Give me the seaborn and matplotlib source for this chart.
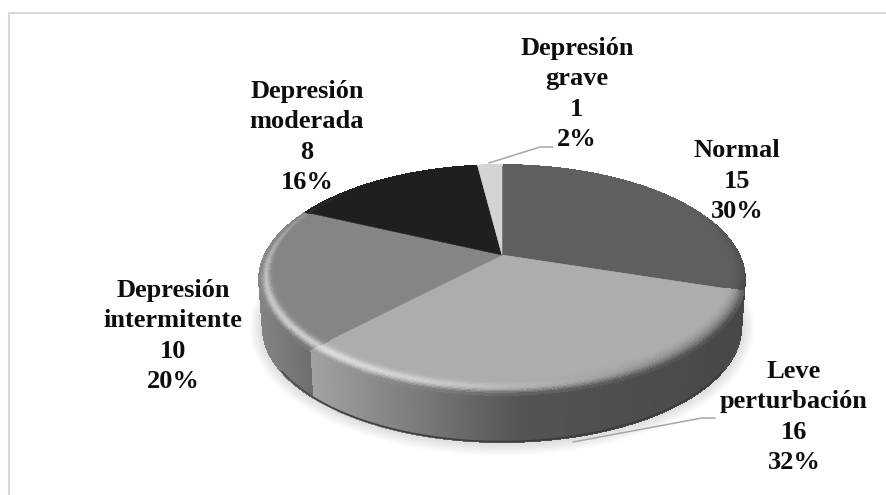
import numpy as np
import matplotlib
matplotlib.use("Agg")
import matplotlib.pyplot as plt
import seaborn as sns
from matplotlib.collections import PolyCollection
from matplotlib.path import Path
from matplotlib.transforms import Affine2D, Transform

# Survey results
categories = ["Normal", "Leve\nperturbación", "Depresión\nintermitente",
              "Depresión\nmoderada", "Depresión\ngrave"]
counts = [15, 16, 10, 8, 1]

# Greys for the top of each slice
face_colors = ["#5f5f5f", "#adadad", "#858585", "#1f1f1f", "#d4d4d4"]

# Wall shading per slice: screen x stops and their grey levels
wall_x = [[700, 760], [316, 420, 520, 745], [258, 318], [0, 886], [0, 886]]
wall_grey = [[0.27, 0.27], [0.63, 0.48, 0.33, 0.28], [0.52, 0.42], [0.1, 0.1], [0.6, 0.6]]

# Text block centres and leader lines, in figure pixels
label_pos = [(737, 181), (794, 417), (173, 336), (307, 137), (577, 94)]
leaders = {4: [(489, 163), (540, 147), (553, 147)],
           1: [(573, 442), (702, 418), (715, 418)]}

# Projection of the unit disc onto the screen
CX, CY = 502.0, 255.0
SX, SY = 237.0, 109.6
PERSP = 0.217
DEPTH = 47.0
WALL_SHRINK = 0.985


def project(x, y):
    w = 1 + PERSP * np.asarray(y)
    return CX + SX * np.asarray(x) / w, CY - SY * np.asarray(y) / w


class TiltTransform(Transform):
    """Maps pie coordinates (unit disc) to the tilted disc on screen."""
    input_dims = 2
    output_dims = 2

    def transform_non_affine(self, values):
        values = np.asarray(values)
        px, py = project(values[:, 0], values[:, 1])
        return np.column_stack([px, py])

    def transform_path_non_affine(self, path):
        fine = Affine2D().scale(3000)
        polys = path.to_polygons(transform=fine, closed_only=True)
        return Path(self.transform_non_affine(polys[0] / 3000))


def grey_at(i, x):
    g = np.interp(x, wall_x[i], wall_grey[i])
    return np.stack([g, g, g], axis=-1)


sns.set_theme(style="white")
plt.rcParams["font.family"] = ["Liberation Serif", "DejaVu Serif"]

fig, ax = plt.subplots(figsize=(8.86, 4.95), dpi=100)
fig.subplots_adjust(0, 0, 1, 1)

wedges, _ = ax.pie(counts, startangle=90, counterclock=False,
                   colors=sns.color_palette(face_colors), radius=1,
                   wedgeprops=dict(linewidth=0.4))
ax.set_aspect("auto")
ax.set_xlim(0, 886)
ax.set_ylim(495, 0)
ax.set_axis_off()

tilt = TiltTransform()
for wedge in wedges:
    wedge.set_edgecolor(wedge.get_facecolor())
    wedge.set_transform(tilt + ax.transData)
    wedge.set_zorder(5)

# Soft drop shadow beneath the disc
rim = np.radians(np.linspace(0, 360, 361))
ox, oy = project(np.cos(rim), np.sin(rim))
for grow in np.linspace(1.0, 13.0, 12):
    sx = CX + (ox - CX) * (WALL_SHRINK + grow / 240)
    sy = (oy + DEPTH - 2) + (oy - oy.mean()) * grow / 120 + 2
    ax.fill(sx, sy, color="black", alpha=0.011, lw=0, zorder=1)

# Outer wall, built from thin quads along the front of each slice
for i, wedge in enumerate(wedges):
    lo, hi = sorted((wedge.theta1, wedge.theta2))
    angles = np.radians(np.arange(lo, hi + 0.5, 0.5))
    angles = angles[np.sin(angles) < 0.3]
    if angles.size < 2:
        continue
    tx, ty = project(np.cos(angles), np.sin(angles))
    bx, by = CX + (tx - CX) * WALL_SHRINK, ty + DEPTH
    quads = [[(tx[j], ty[j]), (tx[j + 1], ty[j + 1]), (bx[j + 1], by[j + 1]), (bx[j], by[j])]
             for j in range(angles.size - 1)]
    colours = grey_at(i, 0.5 * (tx[:-1] + tx[1:]))
    ax.add_collection(PolyCollection(quads, facecolors=colours, edgecolors=colours,
                                     linewidths=0.8, antialiaseds=False, zorder=2))
    # Smooth the lower outline, with a dark seam only along the very front
    ax.plot(bx, by, color=tuple(np.median(colours, axis=0)), lw=0.8, zorder=2.5)
    seam = np.sin(angles) < -0.55
    if seam.sum() > 1:
        ax.plot(bx[seam], by[seam] - 0.5, color="#303030", lw=1.0, alpha=0.7, zorder=3,
                solid_capstyle="butt")

# Rounded bevel where the top of the disc meets the wall
bands = np.linspace(0, 1, 15)
for i, wedge in enumerate(wedges):
    lo, hi = sorted((wedge.theta1, wedge.theta2))
    steps = np.radians(np.arange(lo, hi + 0.75, 0.75))
    steps[-1] = np.radians(hi)
    face = np.array(matplotlib.colors.to_rgb(face_colors[i]))
    quads, colours = [], []
    for a0, a1 in zip(steps[:-1], steps[1:]):
        mid = 0.5 * (a0 + a1)
        front = np.clip(0.5 - 0.9 * np.sin(mid), 0, 1)
        width = 0.105 * np.clip(0.5 - 0.5 * np.sin(mid), 0, 1)
        glow = np.clip(np.cos(mid - np.radians(225)), 0, 1) ** 1.5 * 0.62
        for t0, t1 in zip(bands[:-1], bands[1:]):
            r0, r1 = 1 - width * (1 - t0), 1 - width * (1 - t1)
            corners = [(r0, a0), (r0, a1), (r1, a1), (r1, a0)]
            pts = [project(r * np.cos(a), r * np.sin(a)) for r, a in corners]
            tm = 0.5 * (t0 + t1)
            wall = grey_at(i, CX + SX * np.cos(mid))
            mix = front * tm ** 2.2 if i < 3 else 0.0
            c = face * (1 - mix) + wall * mix
            bump = glow * np.exp(-((tm - 0.62) / 0.24) ** 2)
            c = c * (1 - bump) + bump
            quads.append([(float(px), float(py)) for px, py in pts])
            colours.append(c)
    ax.add_collection(PolyCollection(quads, facecolors=colours, edgecolors=colours,
                                     linewidths=0.5, antialiaseds=False, zorder=6))

# Leader lines to the two outlying labels
for pts in leaders.values():
    xs, ys = zip(*pts)
    ax.plot(xs, ys, color="#a6a6a6", lw=1.1, zorder=7, solid_joinstyle="miter")

# Labels: name, count and share of the total
total = sum(counts)
for name, n, (lx, ly) in zip(categories, counts, label_pos):
    ax.text(lx, ly, f"{name}\n{n}\n{n / total:.0%}", ha="center", va="center",
            multialignment="center", fontsize=19, fontweight="bold",
            color="#0d0d0d", linespacing=1.41, zorder=8)

# Chart frame, visible along the top and left only
ax.plot([9, 9, 886], [495, 13, 13], color="#d9d9d9", lw=1.5, zorder=0,
        solid_joinstyle="miter", clip_on=False)

fig.savefig("out.png", dpi=100, facecolor="white")
